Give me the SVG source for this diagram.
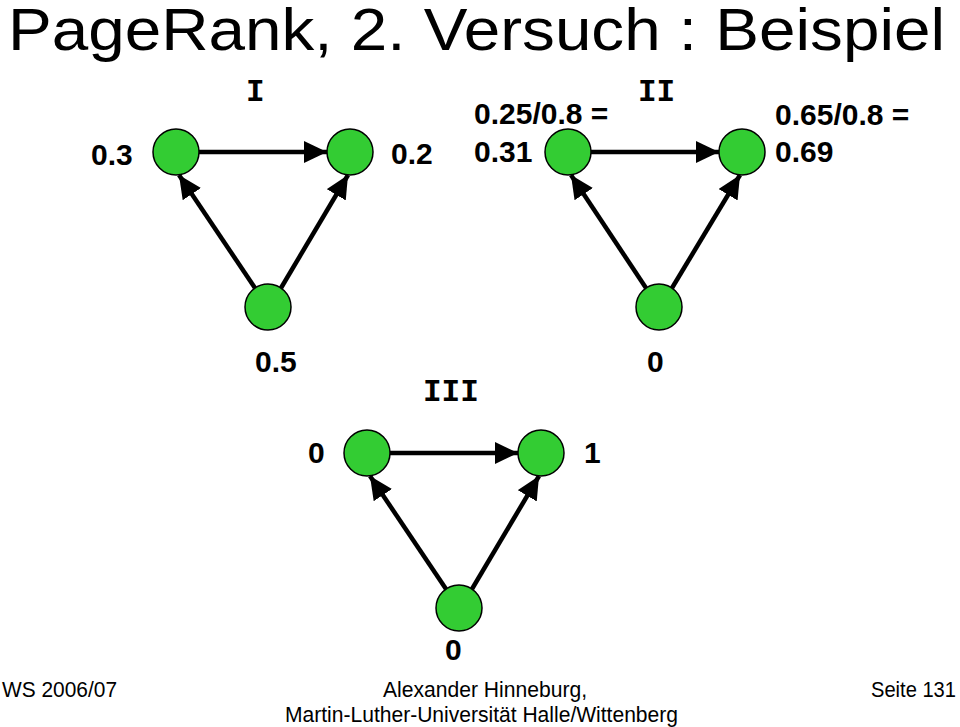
<svg xmlns="http://www.w3.org/2000/svg" width="960" height="727" viewBox="0 0 960 727">
<style>
.node{fill:#33cc33;stroke:#000;stroke-width:1.5}
.edge{stroke:#000;stroke-width:4.5;fill:none;marker-end:url(#ah)}
.lbl{font-family:"Liberation Sans",Arial,sans-serif;font-weight:bold;font-size:30px;fill:#000}
.rom{font-family:"Liberation Mono","Courier New",monospace;font-weight:bold;font-size:31px;fill:#000}
.foot{font-family:"Liberation Sans",Arial,sans-serif;font-size:22px;fill:#000}
.title{font-family:"Liberation Sans",Arial,sans-serif;font-size:60px;fill:#000}
</style>
<defs>
<marker id="ah" markerUnits="userSpaceOnUse" markerWidth="26" markerHeight="24" refX="23" refY="11" orient="auto">
<path d="M0,0 L23,11 L0,22 z" fill="#000"/>
</marker>
</defs>
<rect width="960" height="727" fill="#fff"/>
<text class="title" x="8" y="50" textLength="937" lengthAdjust="spacingAndGlyphs">PageRank, 2. Versuch : Beispiel</text>

<g id="connectors">
<line class="edge" x1="199" y1="152" x2="327" y2="152"/>
<line class="edge" x1="255" y1="288" x2="179" y2="175"/>
<line class="edge" x1="281" y1="288" x2="348" y2="175"/>
<line class="edge" x1="591" y1="152" x2="719" y2="152"/>
<line class="edge" x1="646" y1="288" x2="571" y2="175"/>
<line class="edge" x1="672" y1="288" x2="740" y2="175"/>
<line class="edge" x1="390" y1="453" x2="518" y2="453"/>
<line class="edge" x1="446" y1="589" x2="370" y2="476"/>
<line class="edge" x1="472" y1="589" x2="539" y2="476"/>
</g>

<g id="graph1">
<text class="rom" x="246" y="101">I</text>
<g id="n1a"><circle class="node" cx="176" cy="152" r="23"/><text class="lbl" x="91" y="165">0.3</text></g>
<g id="n1b"><circle class="node" cx="350" cy="152" r="23"/><text class="lbl" x="391" y="164">0.2</text></g>
<g id="n1c"><circle class="node" cx="268" cy="307" r="23"/><text class="lbl" x="255" y="372">0.5</text></g>
</g>

<g id="graph2">
<text class="rom" x="638" y="101">II</text>
<g id="n2a"><circle class="node" cx="568" cy="152" r="23"/><text class="lbl" x="474" y="124">0.25/0.8 =</text><text class="lbl" x="474" y="162">0.31</text></g>
<g id="n2b"><circle class="node" cx="742" cy="152" r="23"/><text class="lbl" x="775" y="125">0.65/0.8 =</text><text class="lbl" x="775" y="162">0.69</text></g>
<g id="n2c"><circle class="node" cx="659" cy="307" r="23"/><text class="lbl" x="647" y="372">0</text></g>
</g>

<g id="graph3">
<text class="rom" x="423" y="401">III</text>
<g id="n3a"><circle class="node" cx="367" cy="453" r="23"/><text class="lbl" x="308" y="463">0</text></g>
<g id="n3b"><circle class="node" cx="541" cy="453" r="23"/><text class="lbl" x="584" y="463">1</text></g>
<g id="n3c"><circle class="node" cx="459" cy="608" r="23"/><text class="lbl" x="445" y="660">0</text></g>
</g>

<g id="footer">
<text class="foot" x="2" y="697" textLength="115" lengthAdjust="spacingAndGlyphs">WS 2006/07</text>
<text class="foot" x="383" y="697" textLength="204" lengthAdjust="spacingAndGlyphs">Alexander Hinneburg,</text>
<text class="foot" x="285" y="722" textLength="393" lengthAdjust="spacingAndGlyphs">Martin-Luther-Universität Halle/Wittenberg</text>
<text class="foot" x="871" y="697" textLength="85" lengthAdjust="spacingAndGlyphs">Seite 131</text>
</g>
</svg>
